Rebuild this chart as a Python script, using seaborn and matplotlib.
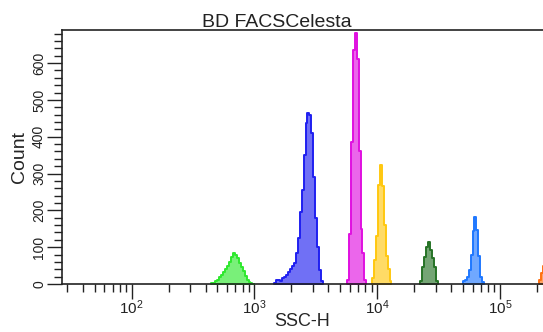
import matplotlib
import matplotlib.pyplot as plt
import numpy as np
import pandas as pd
import seaborn as sns
from matplotlib.ticker import LogLocator, MultipleLocator, NullFormatter

matplotlib.use("Agg")

# bin width in decades (log10 units), shared by every bead peak
BIN_W = 0.016

# per peak: first bin edge (log10 SSC-H) and counts
green_start = 2.648
green_counts = [2, 4, 8, 12, 18, 24, 32, 40, 50, 60, 72, 84, 80, 70, 58, 46, 34, 22, 12, 5, 2, 1]

blue_start = 3.160
blue_counts = [4, 12, 10, 8, 16, 20, 24, 32, 40, 48, 58, 85, 125, 195, 255, 350, 438, 465,
               460, 410, 290, 180, 100, 38, 8]

magenta_start = 3.752
magenta_counts = [12, 135, 385, 635, 682, 610, 360, 150, 85, 10]

yellow_start = 3.956
yellow_counts = [15, 65, 130, 270, 323, 265, 160, 75, 40, 8]

dkgreen_start = 4.352
dkgreen_counts = [8, 45, 72, 100, 115, 92, 70, 45, 8]

ltblue_start = 4.696
ltblue_counts = [8, 12, 20, 38, 80, 145, 183, 148, 75, 20, 5]

orange_start = 5.320
orange_counts = [12, 30, 50, 60]

peaks = [
    ("green", green_start, green_counts, "#2ee82e"),
    ("blue", blue_start, blue_counts, "#1f1ff0"),
    ("magenta", magenta_start, magenta_counts, "#e010e0"),
    ("yellow", yellow_start, yellow_counts, "#ffc810"),
    ("dkgreen", dkgreen_start, dkgreen_counts, "#267326"),
    ("ltblue", ltblue_start, ltblue_counts, "#1f78ff"),
    ("orange", orange_start, orange_counts, "#ff7010"),
]

sns.set_style("white")
plt.rcParams["font.family"] = ["Liberation Sans", "DejaVu Sans"]
plt.rcParams["mathtext.fontset"] = "custom"
plt.rcParams["mathtext.rm"] = "Liberation Sans"
plt.rcParams["mathtext.default"] = "rm"
plt.rcParams["text.color"] = "#222222"

fig = plt.figure(figsize=(5.43, 3.32), dpi=100)
ax = fig.add_axes([62 / 543, 1 - 284 / 332, (543 - 62) / 543, (284 - 30) / 332])
ax.set_xscale("log")

for name, start, counts, color in peaks:
    edges = start + BIN_W * np.arange(len(counts) + 1)
    centers = (edges[:-1] + edges[1:]) / 2
    df = pd.DataFrame({"ssc": 10 ** centers, "count": counts})
    sns.histplot(
        data=df, x="ssc", weights="count", bins=[float(e) for e in edges],
        element="step", fill=True, color=color, alpha=0.64, linewidth=1.4,
        edgecolor=color, ax=ax,
    )

ax.set_xlim(10 ** 1.433, 10 ** 5.35)
ax.set_ylim(0, 690)

ax.xaxis.set_major_locator(LogLocator(base=10, numticks=10))
ax.xaxis.set_minor_locator(LogLocator(base=10, subs=np.arange(2, 10), numticks=20))
ax.xaxis.set_minor_formatter(NullFormatter())
ax.yaxis.set_major_locator(MultipleLocator(100))
ax.yaxis.set_minor_locator(MultipleLocator(20))

ax.tick_params(axis="both", which="major", direction="out", length=10.5, width=1,
               color="#222222", labelcolor="#222222", bottom=True, left=True)
ax.tick_params(axis="both", which="minor", direction="out", length=6, width=1,
               color="#222222", bottom=True, left=True)
ax.tick_params(axis="x", which="major", labelsize=11, pad=0)
ax.tick_params(axis="y", which="major", labelsize=10, pad=1)
for lbl in ax.get_yticklabels():
    lbl.set_rotation(90)
    lbl.set_va("center")

for side in ["left", "top", "bottom"]:
    ax.spines[side].set_color("#222222")
    ax.spines[side].set_linewidth(1.2)
ax.spines["right"].set_visible(False)

ax.set_xlabel("SSC-H", fontsize=13, labelpad=-3)
ax.set_ylabel("Count", fontsize=14, labelpad=3)
fig.text(277 / 543, 1 - 27 / 332, "BD FACSCelesta", ha="center", va="baseline", fontsize=14)

fig.savefig("out.png", dpi=100)
plt.close(fig)
